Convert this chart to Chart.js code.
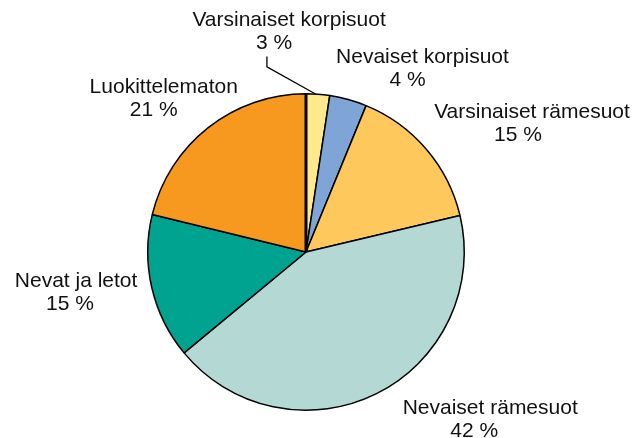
<!DOCTYPE html>
<html>
<head>
<meta charset="utf-8">
<script src="https://cdn.jsdelivr.net/npm/chart.js@4/dist/chart.umd.min.js"></script>
<style>
html,body{margin:0;padding:0;background:#fff;}
#wrap{width:633px;height:438px;position:relative;}
</style>
</head>
<body>
<div id="wrap"><canvas id="c" width="633" height="438"></canvas></div>
<script>
/* ══ DATA ══ */
const names=['Varsinaiset korpisuot','Nevaiset korpisuot','Varsinaiset rämesuot','Nevaiset rämesuot','Nevat ja letot','Luokittelematon'];
const shares=[2.4,3.8,15.1,42.7,14.8,21.2];   // slice sizes as measured
const pctText=['3 %','4 %','15 %','42 %','15 %','21 %'];
const colors=['#FFE98C','#7FA5D6','#FFC85C','#B4D8D4','#00A390','#F7981F'];
// label placement in pie radii from centre: [x line1, x line2, y middle]
const labelAt=[[-0.107,-0.201,-1.393],[0.736,0.642,-1.157],[1.428,1.340,-0.808],[1.164,1.063,1.057],[-1.453,-1.491,0.258],[-0.899,-0.962,-0.969]];

const labelPlugin={
  id:'pieLabels',
  afterDatasetsDraw(chart){
    const ctx=chart.ctx;
    const arcs=chart.getDatasetMeta(0).data;
    const a0=arcs[0];
    const cx=a0.x,cy=a0.y,r=a0.outerRadius;
    ctx.save();
    // thicker seam at 12 o'clock
    ctx.strokeStyle='#000';ctx.lineWidth=3;
    ctx.beginPath();ctx.moveTo(cx,cy);ctx.lineTo(cx,cy-r);ctx.stroke();
    // leader line for the small slice
    const mid=a0.startAngle+(a0.endAngle-a0.startAngle)*0.4;
    ctx.lineWidth=1.3;
    ctx.beginPath();
    ctx.moveTo(cx-0.247*r,cy-1.235*r);
    ctx.lineTo(cx-0.247*r,cy-1.17*r);
    ctx.lineTo(cx+Math.cos(mid)*r,cy+Math.sin(mid)*r);
    ctx.stroke();
    ctx.fillStyle='#111';
    ctx.font='21px "Liberation Sans", Arial, sans-serif';
    ctx.textAlign='center';ctx.textBaseline='middle';
    names.forEach((n,i)=>{
      const p=labelAt[i], y=cy+p[2]*r;
      ctx.fillText(n,cx+p[0]*r,y-11.5);
      ctx.fillText(pctText[i],cx+p[1]*r,y+11.5);
    });
    ctx.restore();
  }
};

new Chart(document.getElementById('c'),{
  type:'pie',
  data:{labels:names,datasets:[{data:shares,backgroundColor:colors,borderColor:'#000',borderWidth:1.5}]},
  options:{
    responsive:false,animation:false,
    layout:{padding:{top:93,bottom:27,left:147,right:168}},
    plugins:{legend:{display:false},tooltip:{enabled:false}}
  },
  plugins:[labelPlugin]
});
</script>
</body>
</html>
